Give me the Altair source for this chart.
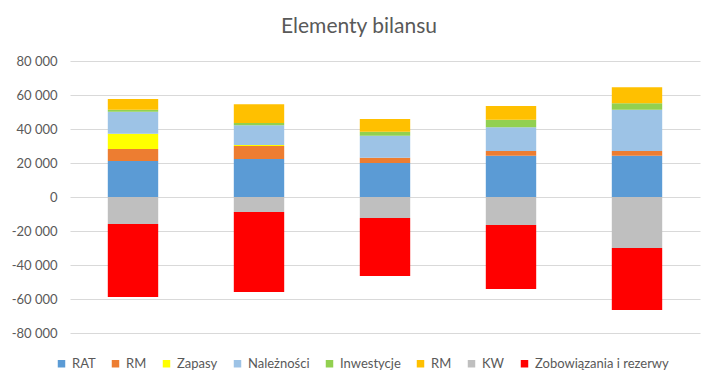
import altair as alt
import pandas as pd

categories = ["1", "2", "3", "4", "5"]
series = ["RAT", "RM", "Zapasy", "Należności", "Inwestycje", "RM2", "KW", "Zobowiązania i rezerwy"]
colors = ["#5B9BD5", "#ED7D31", "#FFFF00", "#9DC3E6", "#92D050", "#FFC000", "#BFBFBF", "#FF0000"]

rat = [21200, 22400, 20000, 24300, 24300]
rm = [7000, 7600, 3100, 2700, 2700]
zapasy = [9000, 600, 0, 0, 0]
naleznosci = [12900, 11600, 12900, 14100, 24300]
inwestycje = [1200, 1400, 2400, 4300, 3900]
rm2 = [6300, 11000, 7500, 8100, 9400]
kw = [-15900, -8800, -12300, -16500, -30000]
zobowiazania = [-42900, -47100, -34100, -37600, -36500]

y_ticks = [-80000, -60000, -40000, -20000, 0, 20000, 40000, 60000, 80000]
title_text = "Elementy bilansu"

all_vals = [rat, rm, zapasy, naleznosci, inwestycje, rm2, kw, zobowiazania]
rows = []
for si, (name, vals) in enumerate(zip(series, all_vals)):
    for c, v in zip(categories, vals):
        rows.append({"cat": c, "series": name, "order": si, "value": v})
df = pd.DataFrame(rows)

gray = "#595959"
font = "Lato"

bars = alt.Chart(df).mark_bar().encode(
    x=alt.X("cat:N", sort=categories, axis=None,
            scale=alt.Scale(paddingInner=0.6, paddingOuter=0.3)),
    y=alt.Y("value:Q", stack="zero",
            scale=alt.Scale(domain=[-80000, 80000], nice=False),
            axis=alt.Axis(values=y_ticks, title=None, domain=False, ticks=False,
                          labelPadding=13, labelFontSize=13, labelColor=gray, labelFont=font,
                          gridColor="#D9D9D9", gridWidth=1,
                          labelExpr="(datum.value < 0 ? '-' : '') + replace(format(abs(datum.value), ',d'), ',', ' ')")),
    color=alt.Color("series:N", sort=series,
                    scale=alt.Scale(domain=series, range=colors),
                    legend=alt.Legend(title=None, orient="none", direction="horizontal", columns=8,
                                      legendX=-15, legendY=296, padding=0,
                                      symbolType="square", symbolSize=56, symbolStrokeWidth=0,
                                      labelFontSize=13, labelColor=gray, labelFont=font,
                                      labelOffset=4, columnPadding=13,
                                      labelExpr="datum.label == 'RM2' ? 'RM' : datum.label")),
    order=alt.Order("order:Q"),
)

title = alt.Chart(alt.Data(values=[{"t": title_text}])).mark_text(
    fontSize=21, font=font, color=gray, align="center", baseline="alphabetic"
).encode(text="t:N", x=alt.value(289), y=alt.value(-28))

chart = alt.layer(bars, title).properties(
    width=630, height=272,
    autosize=alt.AutoSizeParams(type="none"),
    padding={"left": 62, "top": 53, "right": 12, "bottom": 50},
    background="white",
).configure_view(stroke=None)

chart.save("out.html", embed_options={"renderer": "svg", "actions": False})
